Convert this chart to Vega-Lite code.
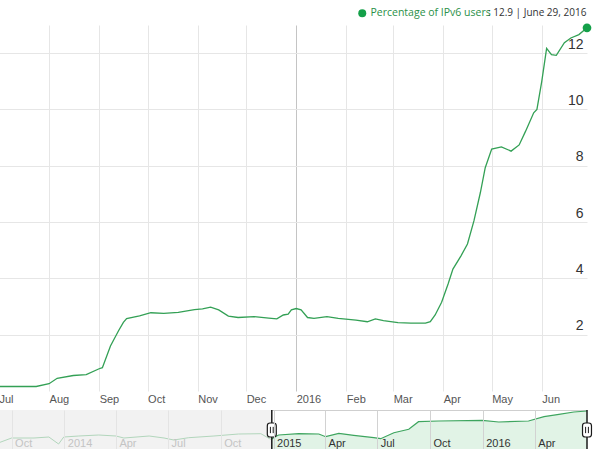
{
  "$schema": "https://vega.github.io/schema/vega-lite/v6.json",
  "padding": {"top": 8, "left": -4, "right": 0, "bottom": 0},
  "background": "white",
  "config": {"view": {"stroke": null}},
  "datasets": {
    "main": [
      {"date": "2015-07-01", "value": 0.16},
      {"date": "2015-07-24", "value": 0.16},
      {"date": "2015-08-01", "value": 0.26},
      {"date": "2015-08-06", "value": 0.45},
      {"date": "2015-08-16", "value": 0.55},
      {"date": "2015-08-24", "value": 0.58},
      {"date": "2015-09-01", "value": 0.79},
      {"date": "2015-09-03", "value": 0.83},
      {"date": "2015-09-08", "value": 1.6},
      {"date": "2015-09-13", "value": 2.14},
      {"date": "2015-09-16", "value": 2.44},
      {"date": "2015-09-18", "value": 2.57},
      {"date": "2015-09-26", "value": 2.67},
      {"date": "2015-10-03", "value": 2.78},
      {"date": "2015-10-11", "value": 2.76},
      {"date": "2015-10-20", "value": 2.79},
      {"date": "2015-10-30", "value": 2.89},
      {"date": "2015-11-04", "value": 2.92},
      {"date": "2015-11-09", "value": 2.98},
      {"date": "2015-11-14", "value": 2.88},
      {"date": "2015-11-20", "value": 2.66},
      {"date": "2015-11-26", "value": 2.61},
      {"date": "2015-12-06", "value": 2.64},
      {"date": "2015-12-15", "value": 2.59},
      {"date": "2015-12-20", "value": 2.56},
      {"date": "2015-12-24", "value": 2.7},
      {"date": "2015-12-27", "value": 2.73},
      {"date": "2015-12-29", "value": 2.88},
      {"date": "2016-01-01", "value": 2.93},
      {"date": "2016-01-04", "value": 2.88},
      {"date": "2016-01-08", "value": 2.61},
      {"date": "2016-01-12", "value": 2.58},
      {"date": "2016-01-20", "value": 2.64},
      {"date": "2016-01-27", "value": 2.58},
      {"date": "2016-02-07", "value": 2.52},
      {"date": "2016-02-14", "value": 2.46},
      {"date": "2016-02-19", "value": 2.56},
      {"date": "2016-02-24", "value": 2.5},
      {"date": "2016-03-04", "value": 2.43},
      {"date": "2016-03-12", "value": 2.41},
      {"date": "2016-03-21", "value": 2.41},
      {"date": "2016-03-24", "value": 2.46},
      {"date": "2016-03-27", "value": 2.7},
      {"date": "2016-03-31", "value": 3.15},
      {"date": "2016-04-04", "value": 3.8},
      {"date": "2016-04-07", "value": 4.33},
      {"date": "2016-04-12", "value": 4.8},
      {"date": "2016-04-16", "value": 5.22},
      {"date": "2016-04-20", "value": 6.04},
      {"date": "2016-04-24", "value": 7.05},
      {"date": "2016-04-27", "value": 7.93},
      {"date": "2016-05-01", "value": 8.59},
      {"date": "2016-05-07", "value": 8.67},
      {"date": "2016-05-13", "value": 8.52},
      {"date": "2016-05-18", "value": 8.74},
      {"date": "2016-05-22", "value": 9.23},
      {"date": "2016-05-27", "value": 9.88},
      {"date": "2016-05-29", "value": 10.0},
      {"date": "2016-06-01", "value": 11.0},
      {"date": "2016-06-04", "value": 12.17},
      {"date": "2016-06-07", "value": 11.95},
      {"date": "2016-06-10", "value": 11.92},
      {"date": "2016-06-15", "value": 12.37},
      {"date": "2016-06-19", "value": 12.54},
      {"date": "2016-06-24", "value": 12.66},
      {"date": "2016-06-29", "value": 12.9}
    ],
    "nav": [
      {"date": "2013-09-09", "v": 7.3},
      {"date": "2013-10-01", "v": 12},
      {"date": "2013-11-09", "v": 12},
      {"date": "2013-12-05", "v": 13},
      {"date": "2013-12-22", "v": 6},
      {"date": "2013-12-31", "v": 13},
      {"date": "2014-01-26", "v": 14},
      {"date": "2014-03-02", "v": 15},
      {"date": "2014-04-01", "v": 14},
      {"date": "2014-04-15", "v": 12},
      {"date": "2014-05-29", "v": 14},
      {"date": "2014-06-24", "v": 12},
      {"date": "2014-07-11", "v": 10},
      {"date": "2014-08-06", "v": 12.3},
      {"date": "2014-09-19", "v": 14},
      {"date": "2014-11-01", "v": 16},
      {"date": "2014-12-10", "v": 16.3},
      {"date": "2014-12-26", "v": 11},
      {"date": "2014-12-29", "v": 11},
      {"date": "2015-01-03", "v": 13},
      {"date": "2015-01-10", "v": 15},
      {"date": "2015-02-14", "v": 16.3},
      {"date": "2015-03-21", "v": 16},
      {"date": "2015-04-02", "v": 13.3},
      {"date": "2015-04-25", "v": 16.7},
      {"date": "2015-05-21", "v": 14.7},
      {"date": "2015-06-25", "v": 12.3},
      {"date": "2015-07-07", "v": 11.3},
      {"date": "2015-07-30", "v": 17.3},
      {"date": "2015-08-25", "v": 20.7},
      {"date": "2015-09-11", "v": 28.3},
      {"date": "2015-10-16", "v": 29},
      {"date": "2015-12-31", "v": 29.7},
      {"date": "2016-01-29", "v": 28},
      {"date": "2016-03-21", "v": 29},
      {"date": "2016-04-17", "v": 33.3},
      {"date": "2016-05-13", "v": 35.7},
      {"date": "2016-06-08", "v": 38},
      {"date": "2016-07-01", "v": 39}
    ],
    "shade": [
      {"start": "2013-09-09", "end": "2014-12-29"}
    ],
    "handles": [
      {"date": "2014-12-29"},
      {"date": "2016-07-01"}
    ]
  },
  "vconcat": [
    {
      "width": 588,
      "height": 366,
      "layer": [
        {
          "data": {"name": "main"},
          "mark": {"type": "line", "color": "#33a055", "strokeWidth": 1.3},
          "encoding": {
            "x": {
              "field": "date",
              "type": "temporal",
              "scale": {
                "type": "utc",
                "domain": [
                  {"year": 2015, "month": 7, "date": 1, "utc": true},
                  {"year": 2016, "month": 6, "date": 29, "utc": true}
                ]
              },
              "axis": {
                "title": null,
                "values": [
                  {"year": 2015, "month": 7, "date": 1, "utc": true},
                  {"year": 2015, "month": 8, "date": 1, "utc": true},
                  {"year": 2015, "month": 9, "date": 1, "utc": true},
                  {"year": 2015, "month": 10, "date": 1, "utc": true},
                  {"year": 2015, "month": 11, "date": 1, "utc": true},
                  {"year": 2015, "month": 12, "date": 1, "utc": true},
                  {"year": 2016, "month": 1, "date": 1, "utc": true},
                  {"year": 2016, "month": 2, "date": 1, "utc": true},
                  {"year": 2016, "month": 3, "date": 1, "utc": true},
                  {"year": 2016, "month": 4, "date": 1, "utc": true},
                  {"year": 2016, "month": 5, "date": 1, "utc": true},
                  {"year": 2016, "month": 6, "date": 1, "utc": true}
                ],
                "labelExpr": "utcmonth(datum.value) == 0 ? utcFormat(datum.value, '%Y') : utcFormat(datum.value, '%b')",
                "labelAlign": "left",
                "labelPadding": 2,
                "labelFont": "Liberation Sans",
                "labelFontSize": 11,
                "labelColor": "#555555",
                "labelFlush": false,
                "labelOverlap": false,
                "ticks": false,
                "domain": false,
                "gridColor": {
                  "condition": {"test": "utcmonth(datum.value) == 0", "value": "#c4c4c4"},
                  "value": "#e6e6e6"
                }
              }
            },
            "y": {
              "field": "value",
              "type": "quantitative",
              "scale": {"domain": [0, 13]},
              "axis": {
                "title": null,
                "orient": "right",
                "values": [2, 4, 6, 8, 10, 12],
                "labelAlign": "right",
                "labelPadding": -4,
                "labelBaseline": "alphabetic",
                "labelOffset": -5,
                "labelFont": "Liberation Sans",
                "labelFontSize": 14,
                "labelColor": "#333333",
                "ticks": false,
                "domain": false,
                "minExtent": 0,
                "gridColor": "#e6e6e6"
              }
            }
          }
        },
        {
          "data": {"name": "main"},
          "transform": [{"filter": "time(datum.date) == utc(2016, 5, 29)"}],
          "mark": {"type": "point", "filled": true, "opacity": 1, "size": 75},
          "encoding": {
            "x": {"field": "date", "type": "temporal"},
            "y": {"field": "value", "type": "quantitative"},
            "color": {
              "datum": "Percentage of IPv6 users",
              "type": "nominal",
              "scale": {"range": ["#14a049"]},
              "legend": {
                "orient": "none",
                "legendX": 358,
                "legendY": -17,
                "title": null,
                "padding": 0,
                "symbolType": "circle",
                "symbolSize": 64,
                "symbolStrokeWidth": 0,
                "labelOffset": 3,
                "labelFont": "Open Sans",
                "labelFontSize": 10.5,
                "labelColor": "#2a9048"
              }
            },
            "shape": {
              "datum": ": 12.9  | June 29, 2016",
              "type": "nominal",
              "scale": {"range": ["circle"]},
              "legend": {
                "orient": "none",
                "legendX": 479,
                "legendY": -17,
                "title": null,
                "padding": 0,
                "symbolSize": 0,
                "symbolOpacity": 0,
                "labelOffset": 0,
                "labelFont": "Open Sans",
                "labelFontSize": 10,
                "labelColor": "#333333"
              }
            }
          }
        }
      ]
    },
    {
      "width": 588,
      "height": 40,
      "layer": [
        {
          "data": {"name": "shade"},
          "mark": {"type": "rect", "color": "#f2f2f2"},
          "encoding": {
            "x": {
              "field": "start",
              "type": "temporal",
              "scale": {
                "type": "utc",
                "domain": [
                  {"year": 2013, "month": 9, "date": 9, "utc": true},
                  {"year": 2016, "month": 7, "date": 1, "utc": true}
                ]
              },
              "axis": {
                "title": null,
                "zindex": 1,
                "values": [
                  {"year": 2013, "month": 10, "date": 1, "utc": true},
                  {"year": 2014, "month": 1, "date": 1, "utc": true},
                  {"year": 2014, "month": 4, "date": 1, "utc": true},
                  {"year": 2014, "month": 7, "date": 1, "utc": true},
                  {"year": 2014, "month": 10, "date": 1, "utc": true},
                  {"year": 2015, "month": 1, "date": 1, "utc": true},
                  {"year": 2015, "month": 4, "date": 1, "utc": true},
                  {"year": 2015, "month": 7, "date": 1, "utc": true},
                  {"year": 2015, "month": 10, "date": 1, "utc": true},
                  {"year": 2016, "month": 1, "date": 1, "utc": true},
                  {"year": 2016, "month": 4, "date": 1, "utc": true}
                ],
                "labelExpr": "utcmonth(datum.value) == 0 ? utcFormat(datum.value, '%Y') : utcFormat(datum.value, '%b')",
                "labelAlign": "left",
                "labelBaseline": "alphabetic",
                "labelPadding": -4,
                "labelOffset": 3,
                "labelFont": "Liberation Sans",
                "labelFontSize": 11,
                "labelColor": {
                  "condition": {"test": "datum.value < utc(2014, 11, 29)", "value": "#c4c4c4"},
                  "value": "#333333"
                },
                "labelFlush": false,
                "labelOverlap": false,
                "ticks": false,
                "domain": false,
                "gridColor": {
                  "condition": {"test": "datum.value < utc(2014, 11, 29)", "value": "#e4e4e4"},
                  "value": "#d2d2d2"
                }
              }
            },
            "x2": {"field": "end"}
          }
        },
        {
          "data": {"name": "nav"},
          "transform": [{"filter": "time(datum.date) >= utc(2014, 11, 29)"}],
          "mark": {"type": "area", "color": "#e1f3e6"},
          "encoding": {
            "x": {"field": "date", "type": "temporal"},
            "y": {
              "field": "v",
              "type": "quantitative",
              "scale": {"domain": [0, 40]},
              "axis": {
                "title": null,
                "values": [40],
                "labels": false,
                "ticks": false,
                "domain": false,
                "minExtent": 0,
                "maxExtent": 0,
                "gridColor": "#cfcfcf"
              }
            }
          }
        },
        {
          "data": {"name": "nav"},
          "transform": [{"filter": "time(datum.date) >= utc(2014, 11, 29)"}],
          "mark": {"type": "line", "color": "#3ea55f", "strokeWidth": 1.2},
          "encoding": {
            "x": {"field": "date", "type": "temporal"},
            "y": {"field": "v", "type": "quantitative"}
          }
        },
        {
          "data": {"name": "nav"},
          "transform": [{"filter": "time(datum.date) <= utc(2014, 11, 29)"}],
          "mark": {"type": "line", "color": "#b2d6bc", "strokeWidth": 1},
          "encoding": {
            "x": {"field": "date", "type": "temporal"},
            "y": {"field": "v", "type": "quantitative"}
          }
        },
        {
          "data": {"name": "handles"},
          "mark": {"type": "rule", "color": "#1a1a1a", "strokeWidth": 1.5},
          "encoding": {
            "x": {"field": "date", "type": "temporal"}
          }
        },
        {
          "data": {"name": "handles"},
          "mark": {
            "type": "point",
            "shape": "M-0.64,-0.6Q-0.64,-1 -0.24,-1L0.24,-1Q0.64,-1 0.64,-0.6L0.64,0.6Q0.64,1 0.24,1L-0.24,1Q-0.64,1 -0.64,0.6Z",
            "filled": true,
            "fill": "white",
            "stroke": "#1a1a1a",
            "strokeWidth": 1.2,
            "opacity": 1,
            "size": 196
          },
          "encoding": {
            "x": {"field": "date", "type": "temporal"}
          }
        },
        {
          "data": {"name": "handles"},
          "mark": {
            "type": "point",
            "shape": "M-0.2,-0.45L-0.2,0.45M0.2,-0.45L0.2,0.45",
            "filled": false,
            "stroke": "#1a1a1a",
            "strokeWidth": 1,
            "opacity": 1,
            "size": 196
          },
          "encoding": {
            "x": {"field": "date", "type": "temporal"}
          }
        }
      ]
    }
  ],
  "spacing": 19,
  "bounds": "flush",
  "resolve": {"scale": {"x": "independent", "y": "independent", "color": "independent", "shape": "independent"}}
}
